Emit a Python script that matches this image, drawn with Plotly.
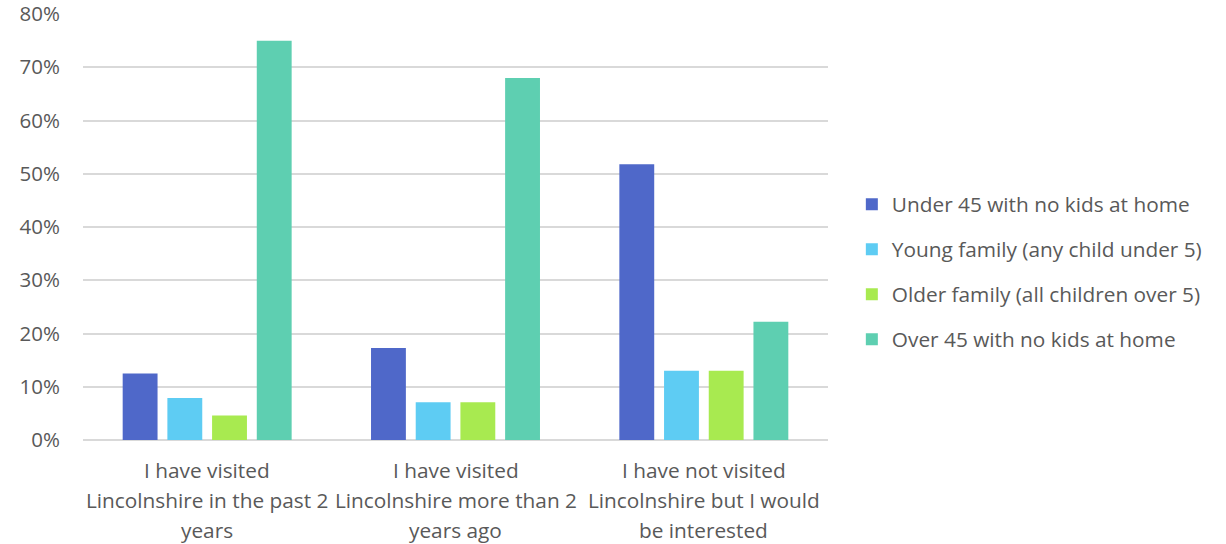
import plotly.graph_objects as go

categories = [
    "I have visited Lincolnshire in the past 2 years",
    "I have visited Lincolnshire more than 2 years ago",
    "I have not visited Lincolnshire but I would be interested",
]
category_lines = [
    ["I have visited", "Lincolnshire in the past 2", "years"],
    ["I have visited", "Lincolnshire more than 2", "years ago"],
    ["I have not visited", "Lincolnshire but I would", "be interested"],
]
series_names = [
    "Under 45 with no kids at home",
    "Young family (any child under 5)",
    "Older family (all children over 5)",
    "Over 45 with no kids at home",
]
values = [
    [0.125, 0.173, 0.518],
    [0.079, 0.071, 0.130],
    [0.046, 0.071, 0.130],
    [0.750, 0.680, 0.222],
]
colors = ["#4F68C9", "#5ECCF3", "#A8EA50", "#5ECFB1"]

fig = go.Figure()
for i, (name, vals, col) in enumerate(zip(series_names, values, colors)):
    fig.add_trace(go.Bar(
        x=categories, y=vals, name=name, marker_color=col,
        marker_line_width=0, legendgroup=f"g{i}",
    ))

# Wrapped category labels, one annotation per line for wider line spacing
for cat, lines in zip(categories, category_lines):
    for j, line in enumerate(lines):
        fig.add_annotation(
            x=cat, xref="x", y=0, yref="paper", yanchor="middle",
            yshift=-30 - 30 * j, text=line, showarrow=False,
            font=dict(size=20.8, color="#595959"),
        )

font_family = "'Open Sans', sans-serif"
fig.update_layout(
    width=1226, height=544,
    margin=dict(l=83, r=398, t=14, b=104),
    paper_bgcolor="white", plot_bgcolor="white",
    barmode="group", bargap=0.28, bargroupgap=0.22,
    font=dict(family=font_family, color="#595959", size=20.8),
    legend=dict(
        x=1.032, y=0.394, xanchor="left", yanchor="middle",
        font=dict(size=20.8, color="#595959"),
        tracegroupgap=15, itemwidth=30,
    ),
    xaxis=dict(
        showgrid=False, showline=False, ticks="", showticklabels=False,
    ),
    yaxis=dict(
        range=[0, 0.8], dtick=0.1, tickformat=".0%", automargin=False,
        ticklabeloverflow="allow",
        showgrid=True, gridcolor="#D9D9D9", gridwidth=1.5,
        zeroline=True, zerolinecolor="#D9D9D9", zerolinewidth=1.5,
        showline=False, ticks="", ticklabelstandoff=22,
        tickfont=dict(size=20.5, color="#595959"),
    ),
)
fig.write_html("out.html")
